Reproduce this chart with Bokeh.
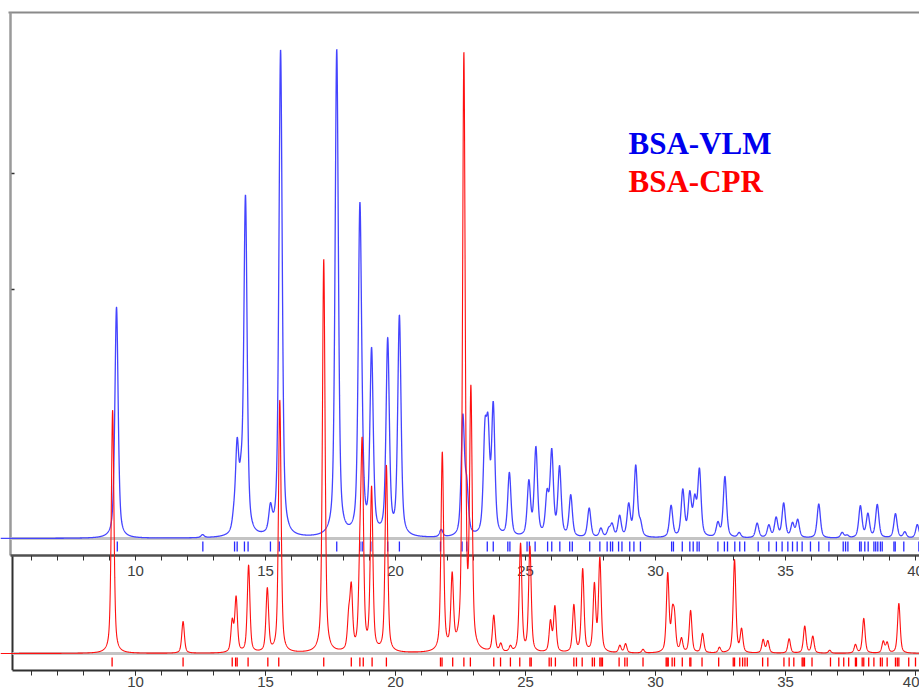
import numpy as np
from bokeh.plotting import figure
from bokeh.models import Range1d, FixedTicker
from bokeh.core.properties import value
from bokeh.embed import file_html
from bokeh.resources import INLINE

# ---------------- data ----------------
# BSA-VLM peaks: 2-theta (deg) and relative intensity (%)
blue_pos = [9.27, 12.58, 13.78, 13.91, 14.06, 14.23, 15.19, 15.58, 17.74, 18.63,
            18.72, 19.08, 19.70, 20.15, 21.76, 22.59, 22.74, 23.44, 23.56, 23.76,
            24.38, 25.13, 25.40, 25.83, 26.01, 26.31, 26.74, 27.45, 27.90, 28.20,
            28.33, 28.62, 28.97, 29.24, 29.42, 30.60, 31.05, 31.32, 31.51, 31.69,
            32.40, 32.67, 33.22, 33.91, 34.36, 34.64, 34.93, 35.27, 35.47, 36.28,
            37.18, 37.37, 37.88, 38.17, 38.53, 39.23, 39.59, 40.07]
blue_int = [47.5, 0.6, 2.5, 17, 8, 69, 5, 100, 100, 65.5,
            6, 37.5, 40, 45, 1.5, 24, 9, 19, 19, 26,
            13, 11, 18, 8, 17, 14, 8.5, 6, 1.8, 1.5,
            2.5, 4.3, 6.5, 14.5, 2.5, 6.5, 9.5, 8.5, 7, 13.5,
            2.8, 12.5, 1, 3, 2.5, 4, 7, 2.8, 3.6, 7,
            1.1, 0.5, 6.5, 4.8, 6.8, 5, 1.2, 2.8]

# BSA-CPR peaks
red_pos = [9.12, 11.83, 13.72, 13.87, 14.35, 15.07, 15.55, 17.24, 18.20, 18.30,
           18.63, 18.72, 19.08, 19.65, 21.80, 22.18, 22.63, 22.90, 23.78, 24.05,
           24.42, 24.81, 25.17, 25.96, 26.13, 26.86, 27.20, 27.65, 27.86, 28.63,
           28.85, 29.52, 30.47, 30.65, 30.73, 31.00, 31.35, 31.81, 32.46, 33.04,
           33.31, 34.14, 34.32, 35.14, 35.74, 36.05, 36.70, 37.69, 38.01, 38.76,
           38.91, 39.36]
red_int = [40.5, 5.3, 5, 9, 14.5, 10.5, 42, 65.5, 5, 10,
           12, 32, 27, 31, 33, 12, 98.8, 42, 6, 1.3,
           0.9, 18, 17.5, 5, 7.5, 7.8, 13.8, 11, 15.5, 1.2,
           1.5, 0.6, 13, 5.5, 5, 2.2, 7, 3.2, 0.9, 15.5,
           3.8, 2.2, 2, 2.4, 4.5, 2.8, 0.5, 1.4, 5.8, 1.9,
           1.7, 8.3]

# reflection (tick) positions
blue_ticks = [9.30, 12.59, 13.81, 13.91, 14.19, 14.33, 15.19, 15.53, 17.74, 18.63,
              18.72, 19.05, 19.70, 20.15, 21.73, 22.56, 22.74, 23.53, 23.76, 24.32,
              24.40, 25.06, 25.15, 25.37, 25.85, 26.01, 26.32, 26.70, 26.80, 27.47,
              27.86, 28.14, 28.27, 28.35, 28.58, 28.71, 29.01, 29.17, 29.42, 30.62,
              30.69, 31.03, 31.32, 31.45, 31.60, 31.68, 32.40, 32.65, 32.77, 33.05,
              33.24, 33.43, 33.95, 34.36, 34.65, 34.87, 35.09, 35.27, 35.45, 35.64,
              35.96, 36.28, 36.67, 37.22, 37.31, 37.40, 37.85, 37.91, 38.05, 38.18,
              38.40, 38.47, 38.55, 38.65, 38.72, 39.17, 39.22, 39.55, 40.13]
red_ticks = [9.10, 11.83, 13.72, 13.85, 13.91, 14.33, 15.09, 15.51, 17.24, 18.30,
             18.63, 18.76, 19.10, 19.65, 21.73, 21.79, 22.20, 22.63, 22.88, 23.78,
             24.04, 24.42, 24.78, 25.17, 25.22, 25.91, 25.99, 26.15, 26.86, 26.96,
             27.18, 27.57, 27.65, 27.86, 27.91, 27.96, 28.60, 28.82, 28.91, 29.52,
             30.41, 30.45, 30.49, 30.64, 30.73, 31.03, 31.32, 31.36, 31.79, 32.43,
             32.99, 33.04, 33.24, 33.35, 33.44, 33.53, 34.12, 34.32, 34.94, 35.14,
             35.32, 35.64, 35.68, 35.73, 36.02, 36.73, 37.05, 37.24, 37.43, 37.69,
             37.73, 37.95, 38.01, 38.20, 38.40, 38.65, 38.72, 38.91, 39.23, 39.30,
             39.36, 39.74, 40.00]

major_ticks = [10, 15, 20, 25, 30, 35, 40]
minor_ticks = list(range(6, 41))
legend_names = ["BSA-VLM", "BSA-CPR"]
legend_colors = ["#0000ee", "#ff0000"]

# ---------------- layout constants ----------------
PXD = 26.0                      # pixels per degree
X0 = 10 - 135 / PXD
X1 = X0 + 919 / PXD
FH = 670.0                      # frame height (data units = pixels)
BLUE_BASE, BLUE_SCALE = 132.0, 4.87
RED_BASE, RED_SCALE = 17.0, 6.01
MID_AXIS = 115.0
TOP_LINE = 658.0


def pattern(x, pos, inten, fwhm, eta):
    y = np.zeros_like(x)
    for p0, h in zip(pos, inten):
        d = (x - p0) / (fwhm / 2)
        y += h * (eta / (1 + d * d) + (1 - eta) * np.exp(-np.log(2) * d * d))
    return y


tt = np.arange(X0, X1, 0.005)
blue_y = BLUE_BASE + BLUE_SCALE * pattern(tt, blue_pos, blue_int, 0.15, 0.55)
red_y = RED_BASE + RED_SCALE * pattern(tt, red_pos, red_int, 0.12, 0.55)

p = figure(width=919, height=692, output_backend="svg", toolbar_location=None,
           x_range=Range1d(X0, X1), y_range=Range1d(0, FH),
           y_axis_location=None, min_border_left=0, min_border_right=0,
           min_border_top=0, min_border_bottom=22)
p.outline_line_color = None
p.grid.visible = False
p.background_fill_color = "white"
p.border_fill_color = "white"

ax = p.xaxis[0]
ax.ticker = FixedTicker(ticks=major_ticks, minor_ticks=minor_ticks)
ax.bounds = (X0 + 12 / PXD, X1)
ax.axis_line_color = "#303030"
ax.axis_line_width = 2
ax.major_tick_in = 0
ax.major_tick_out = 5
ax.minor_tick_in = 0
ax.minor_tick_out = 5
ax.major_tick_line_color = "#303030"
ax.minor_tick_line_color = "#303030"
ax.major_label_standoff = 1
ax.major_label_text_font = "Liberation Sans"
ax.major_label_text_font_size = "15px"
ax.major_label_text_color = "#404040"

# frame lines (top border, left borders)
p.segment(x0=[X0 + 8 / PXD], y0=[TOP_LINE], x1=[X1], y1=[TOP_LINE],
          line_color="#8a8a8a", line_width=2)
p.segment(x0=[X0 + 10 / PXD], y0=[TOP_LINE], x1=[X0 + 10 / PXD], y1=[MID_AXIS],
          line_color="#9a9a9a", line_width=2.5)
p.segment(x0=[X0 + 12 / PXD], y0=[MID_AXIS], x1=[X0 + 12 / PXD], y1=[0],
          line_color="#303030", line_width=2)
p.segment(x0=[X0 + 11 / PXD] * 2, y0=[670 - 173, 670 - 289],
          x1=[X0 + 14 / PXD] * 2, y1=[670 - 173, 670 - 289],
          line_color="#303030", line_width=1.5)

# baselines
p.segment(x0=[X0 + 10 / PXD, X0 + 12 / PXD], y0=[BLUE_BASE, RED_BASE],
          x1=[X1, X1], y1=[BLUE_BASE, RED_BASE], line_color="#c4c4c4", line_width=3)

# middle axis (axis of the upper pattern)
p.segment(x0=[X0 + 10 / PXD], y0=[MID_AXIS], x1=[X1], y1=[MID_AXIS],
          line_color="#505050", line_width=2.5)
p.segment(x0=minor_ticks, y0=[MID_AXIS] * len(minor_ticks),
          x1=minor_ticks, y1=[MID_AXIS - 5] * len(minor_ticks),
          line_color="#303030", line_width=1)
p.text(x=major_ticks, y=[MID_AXIS - 15] * len(major_ticks),
       text=[str(t) for t in major_ticks], text_align="center",
       text_baseline="middle", text_font=value("Liberation Sans"),
       text_font_size="15px", text_color="#404040")

# reflection ticks
p.segment(x0=blue_ticks, y0=[BLUE_BASE - 3] * len(blue_ticks),
          x1=blue_ticks, y1=[BLUE_BASE - 13] * len(blue_ticks),
          line_color="#2a2aff", line_width=1.3)
p.segment(x0=red_ticks, y0=[RED_BASE - 4] * len(red_ticks),
          x1=red_ticks, y1=[RED_BASE - 13] * len(red_ticks),
          line_color="#ff0000", line_width=1.3)

# patterns
p.line(tt, blue_y, line_color="#4444ff", line_width=1.3)
p.line(tt, red_y, line_color="#ff1010", line_width=1.1)

# legend texts
p.text(x=[X0 + 628 / PXD] * 2, y=[670 - 143, 670 - 181], text=legend_names,
       text_color=legend_colors, text_font=value("Liberation Serif"),
       text_font_style="bold", text_font_size="31px",
       text_align="left", text_baseline="alphabetic")

open("out.html", "w").write(file_html(p, INLINE))
